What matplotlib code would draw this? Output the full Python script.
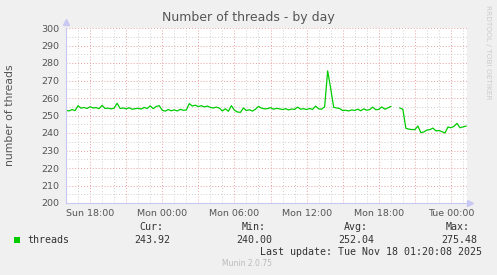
import numpy as np
import matplotlib
matplotlib.use('Agg')
import matplotlib.pyplot as plt
from matplotlib.patches import Rectangle
from matplotlib.ticker import FixedLocator, MultipleLocator

# threads, 15-minute samples starting Sun 16:00 (NaN = no data)
threads = [
    253.0, 252.6, 253.4, 252.8,   # Sun 16
    255.6, 254.2, 254.6, 254.0,   # Sun 17
    255.0, 254.3, 254.5, 253.9,   # Sun 18
    255.8, 254.0, 254.2, 253.8,   # Sun 19
    254.2, 257.0, 254.0, 254.3,   # Sun 20
    253.8, 254.4, 253.6, 253.9,   # Sun 21
    254.1, 253.7, 254.6, 254.0,   # Sun 22
    255.5, 253.9, 255.2, 255.6,   # Sun 23
    253.0, 252.5, 253.4, 252.7,   # Mon 00
    253.2, 252.6, 253.5, 253.0,   # Mon 01
    253.1, 256.8, 255.4, 255.9,   # Mon 02
    255.1, 255.6, 254.9, 255.4,   # Mon 03
    254.6, 254.3, 254.8, 254.2,   # Mon 04
    252.6, 253.8, 252.4, 255.6,   # Mon 05
    253.0, 252.0, 251.8, 254.3,   # Mon 06
    252.8, 253.3, 252.5, 253.6,   # Mon 07
    255.2, 254.2, 253.8, 253.9,   # Mon 08
    254.5, 253.6, 254.1, 253.8,   # Mon 09
    253.4, 253.9, 253.2, 253.7,   # Mon 10
    253.5, 254.8, 253.6, 253.9,   # Mon 11
    253.4, 254.0, 253.5, 255.4,   # Mon 12
    253.8, 253.6, 255.0, 275.48,  # Mon 13
    265.5, 254.7, 254.3, 254.0,   # Mon 14
    252.8, 253.0, 252.6, 253.2,   # Mon 15
    252.9, 253.6, 252.7, 253.8,   # Mon 16
    253.0, 253.4, 254.8, 253.3,   # Mon 17
    253.5, 254.9, 253.6, 254.3,   # Mon 18
    255.2, np.nan, np.nan, 254.3, # Mon 19
    253.6, 242.7, 242.2, 242.0,   # Mon 20
    241.9, 244.0, 240.2, 240.6,   # Mon 21
    241.7, 241.9, 242.8, 241.2,   # Mon 22
    241.4, 240.8, 240.0, 243.4,   # Mon 23
    243.0, 243.8, 245.5, 243.0,   # Tue 00
    243.5, 243.92,                # Tue 01
]
hours = np.arange(len(threads)) * 0.25  # hours since Sun 16:00

tick_pos = [2, 5, 8, 11, 14, 17, 20, 23, 26, 29, 32]
tick_labels = ['Sun 18:00', '', 'Mon 00:00', '', 'Mon 06:00', '',
               'Mon 12:00', '', 'Mon 18:00', '', 'Tue 00:00']

legend_name = 'threads'
stat_names = ['Cur:', 'Min:', 'Avg:', 'Max:']
stat_values = ['243.92', '240.00', '252.04', '275.48']

W, H = 497, 275
fig = plt.figure(figsize=(W / 100, H / 100), dpi=100, facecolor='#f0f0f0')
ax = fig.add_axes([66 / W, 1 - 203 / H, 401 / W, 175 / H])
ax.set_facecolor('white')

ax.set_xlim(0, 33.3333)
ax.set_ylim(200, 300)
ax.xaxis.set_major_locator(FixedLocator(tick_pos))
ax.set_xticklabels(tick_labels)
ax.xaxis.set_minor_locator(MultipleLocator(1))
ax.yaxis.set_major_locator(MultipleLocator(10))
ax.yaxis.set_minor_locator(MultipleLocator(5))

ax.set_axisbelow(True)
ax.grid(which='major', color='#e8a0a0', linestyle=(0, (1, 2)), linewidth=0.7)
ax.grid(which='minor', color='#cfcfcf', linestyle=(0, (1, 2)), linewidth=0.7)

ax.tick_params(which='both', length=0)
ax.tick_params(axis='x', pad=4, labelsize=6.8, labelcolor='#555555')
ax.tick_params(axis='y', pad=4.5, labelsize=6.8, labelcolor='#555555')

for s in ['top', 'right']:
    ax.spines[s].set_visible(False)
for s in ['left', 'bottom']:
    ax.spines[s].set_color('#c8c8f4')
    ax.spines[s].set_linewidth(0.8)

# axis arrows
ax.plot([0], [1.035], marker='^', color='#c8c8f4', markersize=4,
        transform=ax.transAxes, clip_on=False)
ax.plot([1.008], [0], marker='>', color='#c8c8f4', markersize=4,
        transform=ax.transAxes, clip_on=False)

ax.plot(hours, threads, color='#00cc00', linewidth=0.9)

fig.text(10 / W, 1 - 115 / H, 'number of threads', rotation=90, ha='center',
         va='center', fontsize=7.8, color='#555555')
fig.text(248 / W, 1 - 18 / H, 'Number of threads - by day', ha='center',
         va='center', fontsize=9, color='#555555')
fig.text(488 / W, 1 - 5 / H, 'RRDTOOL / TOBI OETIKER', rotation=270,
         ha='center', va='top', fontsize=5.3, color='#cccccc')

mono = 'DejaVu Sans Mono'
fig.patches.append(Rectangle((14 / W, 1 - 243 / H), 6 / W, 6 / H,
                             transform=fig.transFigure, facecolor='#00cc00',
                             edgecolor='none'))
fig.text(27 / W, 1 - 240 / H, legend_name, ha='left', va='center',
         fontsize=7.2, family=mono, color='#333333')
name_right = [163, 266, 368, 470]
val_right = [170, 272, 374, 477]
for n, v, xn, xv in zip(stat_names, stat_values, name_right, val_right):
    fig.text(xn / W, 1 - 227 / H, n, ha='right', va='center', fontsize=7.2,
             family=mono, color='#333333')
    fig.text(xv / W, 1 - 240 / H, v, ha='right', va='center', fontsize=7.2,
             family=mono, color='#333333')
fig.text(482 / W, 1 - 252 / H, 'Last update: Tue Nov 18 01:20:08 2025',
         ha='right', va='center', fontsize=7.2, family=mono, color='#333333')
fig.text(247 / W, 1 - 264 / H, 'Munin 2.0.75', ha='center', va='center',
         fontsize=5.5, color='#bbbbbb')

fig.savefig('out.png', dpi=100, facecolor=fig.get_facecolor())
